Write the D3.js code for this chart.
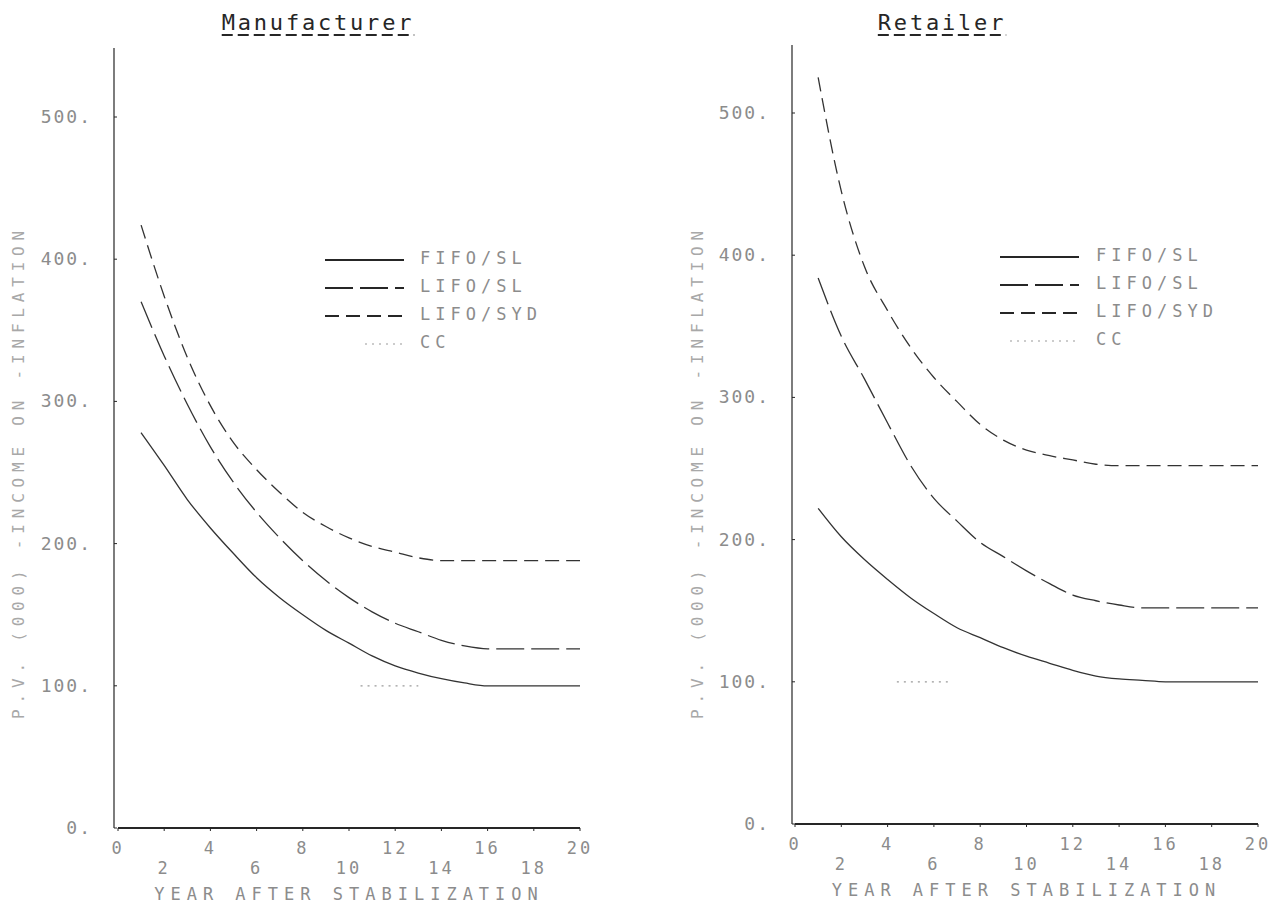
<!DOCTYPE html>
<html>
<head>
<meta charset="utf-8">
<script src="https://cdn.jsdelivr.net/npm/d3@7"></script>
<style>
  body { margin: 0; background: #fff; }
  svg text { font-family: "DejaVu Sans Mono", "Liberation Mono", monospace; }
</style>
</head>
<body>
<div id="chart"></div>
<script>
// values, year 1..20
const years = d3.range(1, 21);

const mfgFifoSl  = [278, 255, 231, 211, 193, 176, 162, 150, 139, 130, 121, 114, 109, 105, 102, 100, 100, 100, 100, 100];
const mfgLifoSl  = [370, 332, 298, 268, 243, 222, 204, 188, 174, 162, 152, 144, 138, 132, 128, 126, 126, 126, 126, 126];
const mfgLifoSyd = [424, 374, 331, 297, 271, 252, 236, 222, 212, 204, 198, 194, 190, 188, 188, 188, 188, 188, 188, 188];

const retFifoSl  = [222, 202, 186, 172, 159, 148, 138, 131, 124, 118, 113, 108, 104, 102, 101, 100, 100, 100, 100, 100];
const retLifoSl  = [384, 343, 313, 282, 252, 229, 213, 198, 188, 178, 169, 161, 157, 154, 152, 152, 152, 152, 152, 152];
const retLifoSyd = [525, 445, 392, 361, 335, 314, 297, 281, 270, 263, 259, 256, 253, 252, 252, 252, 252, 252, 252, 252];

// CC only survives as a short dotted stretch at 100 in each panel
const ccLevel = 100;
const mfgCcYears = [10.5, 11, 11.5, 12, 12.5, 13];
const retCcYears = [4.4, 5, 5.5, 6, 6.6];

const xTicksEven = [0, 4, 8, 12, 16, 20];
const xTicksOdd  = [2, 6, 10, 14, 18];
const yTicks     = [0, 100, 200, 300, 400, 500];

const seriesNames = ["FIFO/SL", "LIFO/SL", "LIFO/SYD", "CC"];
const dashes = ["none", "28,7", "14,7", "2,5"];

const yLabel = "P.V. (000) -INCOME ON -INFLATION";
const xLabel = "YEAR AFTER STABILIZATION";

const width = 1280, height = 910;
const svg = d3.select("#chart").append("svg")
  .attr("width", width)
  .attr("height", height);

const panels = [
  {
    title: "Manufacturer",
    series: [mfgFifoSl, mfgLifoSl, mfgLifoSyd],
    ccYears: mfgCcYears,
    axisX: 114, axisTop: 48,
    x: d3.scaleLinear().domain([0, 20]).range([118, 580]),
    y: d3.scaleLinear().domain([0, 500]).range([828, 117]),
    titleX: 318, labelX: 18,
    legend: { x0: 325, x1: 404, ccX0: 365, tx: 420, y0: 258, dy: 28 }
  },
  {
    title: "Retailer",
    series: [retFifoSl, retLifoSl, retLifoSyd],
    ccYears: retCcYears,
    axisX: 792, axisTop: 45,
    x: d3.scaleLinear().domain([0, 20]).range([795, 1258]),
    y: d3.scaleLinear().domain([0, 500]).range([824, 113]),
    titleX: 942, labelX: 697,
    legend: { x0: 1000, x1: 1079, ccX0: 1010, tx: 1096, y0: 255, dy: 28 }
  }
];

const ink = "#262626";
const faint = "#8c8c8c";

panels.forEach(p => {
  const g = svg.append("g");
  const x = p.x, y = p.y;
  const base = y(0);

  // title with a broken underline
  const title = g.append("text")
    .attr("x", p.titleX)
    .attr("y", 30)
    .attr("text-anchor", "middle")
    .style("font-size", "22px")
    .style("letter-spacing", "2.8px")
    .style("fill", ink)
    .text(p.title);
  const tw = title.node().getComputedTextLength();
  g.append("line")
    .attr("x1", p.titleX - tw / 2).attr("x2", p.titleX + tw / 2)
    .attr("y1", 35).attr("y2", 35)
    .attr("stroke", ink)
    .attr("stroke-width", 2)
    .attr("stroke-dasharray", "11,5");

  // axes
  g.append("line")
    .attr("x1", p.axisX).attr("x2", p.axisX)
    .attr("y1", p.axisTop).attr("y2", base)
    .attr("stroke", ink).attr("stroke-width", 1.2);
  g.append("line")
    .attr("x1", x(0)).attr("x2", x(20))
    .attr("y1", base).attr("y2", base)
    .attr("stroke", ink).attr("stroke-width", 2.2);

  g.selectAll(".ytick")
    .data(yTicks)
    .enter().append("line")
    .attr("x1", p.axisX).attr("x2", p.axisX + 3)
    .attr("y1", d => y(d)).attr("y2", d => y(d))
    .attr("stroke", ink).attr("stroke-width", 1);

  g.selectAll(".ylab")
    .data(yTicks)
    .enter().append("text")
    .attr("x", p.axisX - 22)
    .attr("y", d => y(d) + 6)
    .attr("text-anchor", "end")
    .style("font-size", "18px")
    .style("letter-spacing", "2px")
    .style("fill", faint)
    .text(d => d + ".");

  g.selectAll(".xtick")
    .data(xTicksEven.concat(xTicksOdd))
    .enter().append("line")
    .attr("x1", d => x(d)).attr("x2", d => x(d))
    .attr("y1", base).attr("y2", base + 3)
    .attr("stroke", ink).attr("stroke-width", 1);

  g.selectAll(".xlabEven")
    .data(xTicksEven)
    .enter().append("text")
    .attr("x", d => x(d))
    .attr("y", base + 26)
    .attr("text-anchor", "middle")
    .style("font-size", "17px")
    .style("letter-spacing", "3px")
    .style("fill", faint)
    .text(d => d);

  g.selectAll(".xlabOdd")
    .data(xTicksOdd)
    .enter().append("text")
    .attr("x", d => x(d))
    .attr("y", base + 46)
    .attr("text-anchor", "middle")
    .style("font-size", "17px")
    .style("letter-spacing", "3px")
    .style("fill", faint)
    .text(d => d);

  g.append("text")
    .attr("x", (x(0) + x(20)) / 2)
    .attr("y", base + 72)
    .attr("text-anchor", "middle")
    .style("font-size", "17px")
    .style("letter-spacing", "6px")
    .style("fill", faint)
    .text(xLabel);

  g.append("text")
    .attr("transform", `translate(${p.labelX},472) rotate(-90)`)
    .attr("text-anchor", "middle")
    .attr("dy", "0.35em")
    .style("font-size", "16px")
    .style("letter-spacing", "5.8px")
    .style("fill", "#a8a8a8")
    .text(yLabel);

  // curves
  const line = d3.line()
    .x(d => x(d[0]))
    .y(d => y(d[1]))
    .curve(d3.curveMonotoneX);

  p.series.forEach((vals, i) => {
    g.append("path")
      .datum(years.map((yr, k) => [yr, vals[k]]))
      .attr("d", line)
      .attr("fill", "none")
      .attr("stroke", "#333")
      .attr("stroke-width", 1.3)
      .attr("stroke-dasharray", dashes[i]);
  });

  g.append("path")
    .datum(p.ccYears.map(yr => [yr, ccLevel]))
    .attr("d", line)
    .attr("fill", "none")
    .attr("stroke", "#9a9a9a")
    .attr("stroke-width", 1.2)
    .attr("stroke-dasharray", dashes[3]);

  // legend
  const lg = p.legend;
  seriesNames.forEach((name, i) => {
    const ly = lg.y0 + i * lg.dy;
    g.append("line")
      .attr("x1", i === 3 ? lg.ccX0 : lg.x0).attr("x2", lg.x1)
      .attr("y1", ly + 2).attr("y2", ly + 2)
      .attr("stroke", i === 3 ? "#9a9a9a" : ink)
      .attr("stroke-width", i === 3 ? 1.2 : 2)
      .attr("stroke-dasharray", dashes[i]);
    g.append("text")
      .attr("x", lg.tx)
      .attr("y", ly + 6)
      .style("font-size", "17px")
      .style("letter-spacing", "5px")
      .style("fill", faint)
      .text(name);
  });
});
</script>
</body>
</html>
